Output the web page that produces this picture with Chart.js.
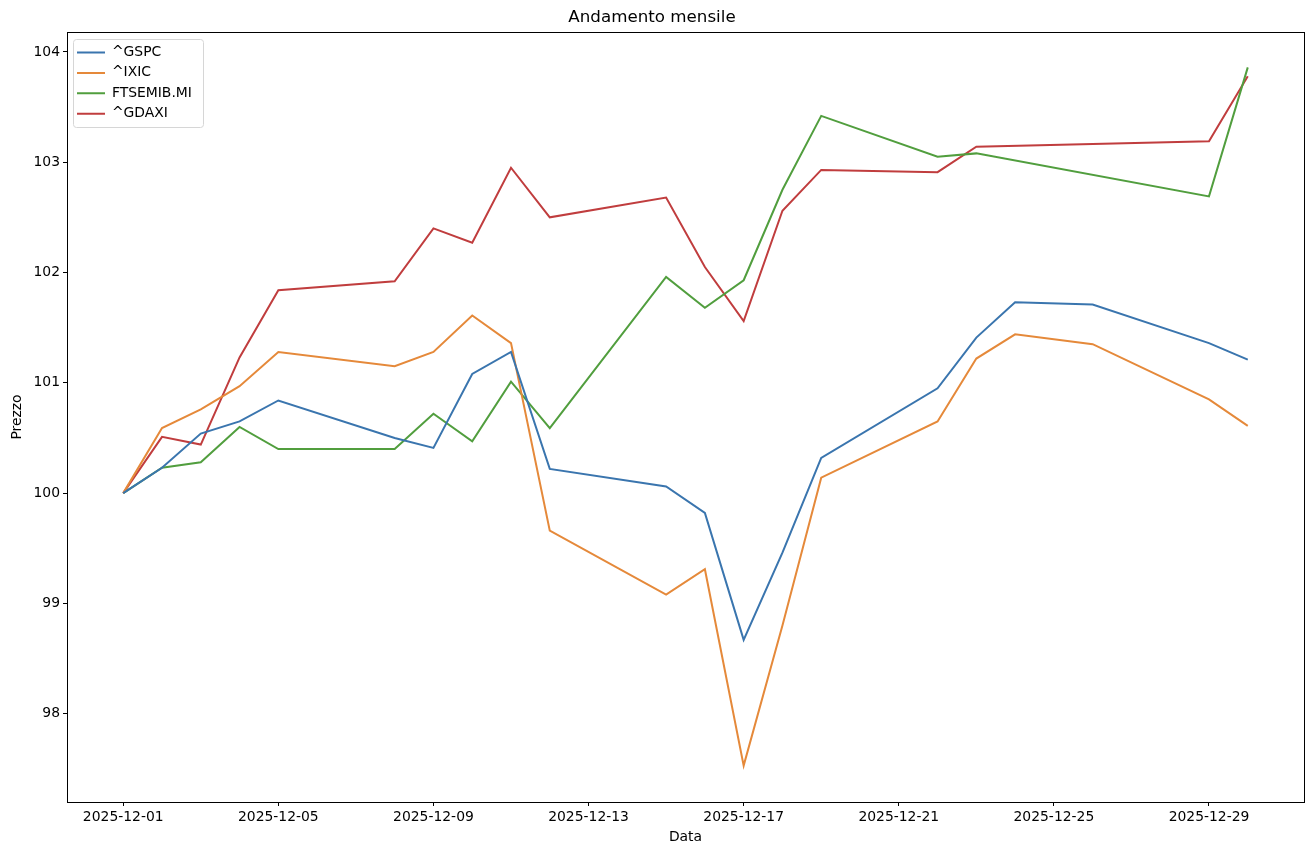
<!DOCTYPE html>
<html>
<head>
<meta charset="utf-8">
<title>Andamento mensile</title>
<script src="https://cdn.jsdelivr.net/npm/chart.js@4.4.1/dist/chart.umd.min.js"></script>
<style>
  body { margin: 0; background: #fff; }
  #wrap { width: 1315px; height: 855px; }
</style>
</head>
<body>
<div id="wrap"><canvas id="trend_chart" width="1315" height="855"></canvas></div>
<script>
// giorni di dicembre 2025 (trading days)
const days = [1, 2, 3, 4, 5, 8, 9, 10, 11, 12, 15, 16, 17, 18, 19, 22, 23, 24, 26, 29, 30];

const gspc = [100, 100.23, 100.54, 100.65, 100.84, 100.50, 100.41, 101.08, 101.28, 100.22,
              100.06, 99.82, 98.67, 99.46, 100.32, 100.95, 101.41, 101.73, 101.71, 101.36, 101.21];
const ixic = [100, 100.59, 100.76, 100.97, 101.28, 101.15, 101.28, 101.61, 101.36, 99.66,
              99.08, 99.31, 97.53, 98.80, 100.14, 100.65, 101.22, 101.44, 101.35, 100.85, 100.61];
const ftsemib = [100, 100.23, 100.28, 100.60, 100.40, 100.40, 100.72, 100.47, 101.01, 100.59,
                 101.96, 101.68, 101.93, 102.75, 103.42, 103.05, 103.08, null, null, 102.69, 103.86];
const gdaxi = [100, 100.51, 100.44, 101.23, 101.84, 101.92, 102.40, 102.27, 102.95, 102.50,
               102.68, 102.05, 101.56, 102.56, 102.93, 102.91, 103.14, null, null, 103.19, 103.78];

const seriesNames = ["^GSPC", "^IXIC", "FTSEMIB.MI", "^GDAXI"];
const seriesColors = ["#3a75ae", "#e5893a", "#519e3e", "#c03d3e"];

const tickDays = [1, 5, 9, 13, 17, 21, 25, 29];
const tickLabels = ["2025-12-01", "2025-12-05", "2025-12-09", "2025-12-13",
                    "2025-12-17", "2025-12-21", "2025-12-25", "2025-12-29"];

const toPoints = (vals) => days.map((d, i) => ({ x: d, y: vals[i] }));

const legPad = 6.5;

// legenda dentro l'area, in alto a sinistra; cornice del grafico + riquadro legenda
const framePlugin = {
  id: "frame",
  afterLayout(chart) {
    const lg = chart.legend;
    if (!lg) return;
    const a = chart.chartArea;
    const w = lg.width, h = lg.height;
    lg.left = a.left + 3.5;
    lg.top = a.top + 7;
    lg.right = lg.left + w;
    lg.bottom = lg.top + h;
  },
  afterDraw(chart) {
    const ctx = chart.ctx;
    const a = chart.chartArea;
    ctx.save();
    ctx.strokeStyle = "#000";
    ctx.lineWidth = 1;
    ctx.strokeRect(Math.round(a.left) + 0.5, Math.round(a.top) + 0.5,
                   Math.round(a.right - a.left), Math.round(a.bottom - a.top));
    const lg = chart.legend;
    if (lg) {
      ctx.font = "13.9px 'DejaVu Sans', sans-serif";
      let tw = 0;
      seriesNames.forEach((s) => { tw = Math.max(tw, ctx.measureText(s).width); });
      const n = seriesNames.length;
      const l = lg.left + 2.5, t = lg.top;
      const r = l + 4 + 28 + 7 + tw + 11;
      const b = t + legPad + n * 13.9 + (n - 1) * legPad + legPad;
      ctx.strokeStyle = "#d6d6d6";
      ctx.beginPath();
      ctx.roundRect(Math.round(l) + 0.5, Math.round(t) + 0.5, Math.round(r - l), Math.round(b - t), 3);
      ctx.stroke();
    }
    ctx.restore();
  }
};

function renderChart() {
  Chart.defaults.font.family = "'DejaVu Sans', sans-serif";
  Chart.defaults.font.size = 13.9;
  Chart.defaults.color = "#000";

  const all = [gspc, ixic, ftsemib, gdaxi];
  const datasets = all.map((vals, i) => ({
    label: seriesNames[i],
    data: toPoints(vals),
    borderColor: seriesColors[i],
    backgroundColor: seriesColors[i],
    borderWidth: 2,
    pointRadius: 0,
    tension: 0,
    spanGaps: true,
    fill: false
  }));

  const ctx = document.getElementById("trend_chart").getContext("2d");
  new Chart(ctx, {
    type: "line",
    data: { datasets: datasets },
    plugins: [framePlugin],
    options: {
      responsive: false,
      animation: false,
      devicePixelRatio: 1,
      layout: { padding: { left: 0, right: 11, top: 0, bottom: 0 } },
      plugins: {
        title: {
          display: true,
          text: "Andamento mensile",
          font: { size: 16.7, weight: "normal" },
          padding: { top: 8, bottom: 4 }
        },
        legend: {
          position: "chartArea",
          align: "start",
          labels: {
            usePointStyle: true,
            pointStyle: "line",
            pointStyleWidth: 28,
            padding: legPad,
            font: { size: 13.9 }
          }
        },
        tooltip: { enabled: false }
      },
      scales: {
        x: {
          type: "linear",
          min: -0.45,
          max: 31.45,
          afterBuildTicks: (scale) => {
            scale.ticks = tickDays.map((v) => ({ value: v }));
          },
          afterFit: (scale) => { scale.height = 53; },
          ticks: {
            autoSkip: false,
            maxRotation: 0,
            padding: 3,
            callback: (v) => tickLabels[tickDays.indexOf(v)]
          },
          grid: { display: true, drawOnChartArea: false, drawTicks: true, tickLength: 4, color: "#000" },
          border: { display: true, color: "#000" },
          title: { display: true, text: "Data", padding: { top: 0, bottom: 9 } }
        },
        y: {
          type: "linear",
          min: 97.2,
          max: 104.18,
          afterFit: (scale) => { scale.width = 67; },
          ticks: { stepSize: 1, includeBounds: false, padding: 3 },
          grid: { display: true, drawOnChartArea: false, drawTicks: true, tickLength: 4, color: "#000" },
          border: { display: true, color: "#000" },
          title: { display: true, text: "Prezzo", padding: { top: 9, bottom: 0 } }
        }
      }
    }
  });
}

renderChart();
</script>
</body>
</html>
